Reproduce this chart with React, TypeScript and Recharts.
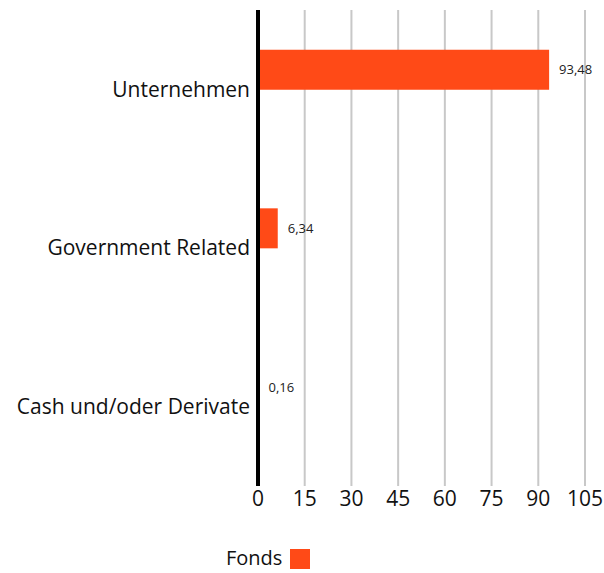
import React from "react";
import {
  BarChart, Bar, XAxis, YAxis, CartesianGrid, Legend, LabelList,
} from "recharts";

const CATEGORIES = ["Unternehmen", "Government Related", "Cash und/oder Derivate"];
const FONDS      = [93.48, 6.34, 0.16];
const X_TICKS    = [0, 15, 30, 45, 60, 75, 90, 105];

const ORANGE = "#ff4a17";

const data = CATEGORIES.map((name, i) => ({ name, fonds: FONDS[i], index: null }));

const fmt = (v: any) => (typeof v === "number" ? v.toFixed(2).replace(".", ",") : "");

function FondsLegend() {
  return (
    <div style={{ display: "flex", alignItems: "flex-end", fontSize: 20, color: "#111", lineHeight: "22px" }}>
      <span>Fonds</span>
      <span style={{ display: "inline-block", width: 20, height: 20, background: ORANGE, marginLeft: 8 }} />
    </div>
  );
}

export default function App() {
  return (
    <div style={{ position: "absolute", left: 0, top: 0, width: 604, height: 573, fontFamily: "'Open Sans', sans-serif", background: "#fff" }}>
      <BarChart
        width={604} height={573} data={data} layout="vertical"
        margin={{ top: 10, right: 19, bottom: 35, left: 0 }}
        barCategoryGap="25%" barGap={0}
      >
        {/* vertical grid only */}
        <CartesianGrid horizontal={false} stroke="#c8c8c8" strokeWidth={2} />
        <XAxis
          type="number" domain={[0, 105]} ticks={X_TICKS} interval={0}
          axisLine={false} tickLine={false} tickSize={0} tickMargin={5} height={30}
          tick={{ fontSize: 21, fill: "#111" }}
        />
        <YAxis
          type="category" dataKey="name" width={258}
          axisLine={{ stroke: "#000", strokeWidth: 4 }} tickLine={false} tickSize={0} tickMargin={8}
          tick={{ fontSize: 21, fill: "#111" }}
        />
        <Legend
          verticalAlign="bottom" height={60}
          content={() => <FondsLegend />}
          wrapperStyle={{ left: 226, bottom: 4, width: "auto", height: 22 }}
        />
        <Bar dataKey="fonds" fill={ORANGE} isAnimationActive={false}>
          <LabelList dataKey="fonds" position="right" offset={10} formatter={fmt}
            style={{ fontSize: 13, fill: "#222" }} />
        </Bar>
        <Bar dataKey="index" fill="#000" isAnimationActive={false} legendType="none" />
      </BarChart>
    </div>
  );
}
